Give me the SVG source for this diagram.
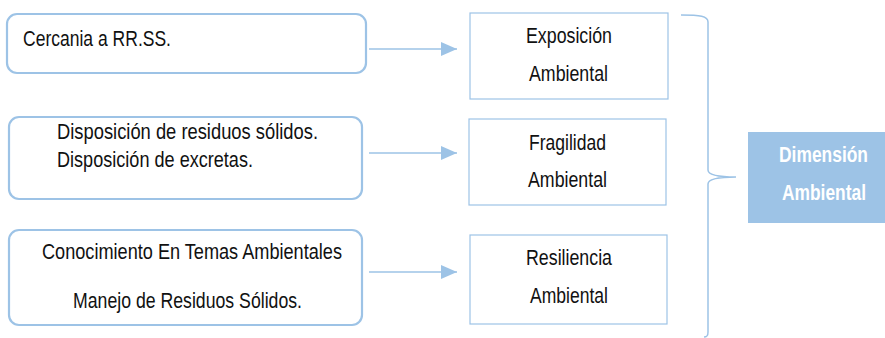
<svg xmlns="http://www.w3.org/2000/svg" width="885" height="338" viewBox="0 0 885 338">
<defs>
<style>
.rb{fill:#fff;stroke:#9DC3E6;stroke-width:2.2}
.sb{fill:#fff;stroke:#9DC3E6;stroke-width:1.2}
.t{font-family:"Liberation Sans",Arial,sans-serif;font-size:21.5px;fill:#111}
.w{font-family:"Liberation Sans",Arial,sans-serif;font-size:21.5px;font-weight:bold;fill:#fff}
.ln{stroke:#9DC3E6;stroke-width:1.5;fill:none}
</style>
<marker id="ah" markerWidth="16" markerHeight="14" viewBox="0 0 16 14" refX="16" refY="7" orient="auto" markerUnits="userSpaceOnUse">
<path d="M0,0 L16,7 L0,14 Z" fill="#9DC3E6"/>
</marker>
</defs>
<g id="n1"><rect class="rb" x="7" y="14" width="359" height="59" rx="10"/><text class="t" x="23" y="46" textLength="148" lengthAdjust="spacingAndGlyphs">Cercania a RR.SS.</text></g>
<g id="n2"><rect class="rb" x="9" y="117" width="353" height="82" rx="10"/><text class="t" x="57" y="139" textLength="261" lengthAdjust="spacingAndGlyphs">Disposición de residuos sólidos.</text><text class="t" x="57" y="167" textLength="196" lengthAdjust="spacingAndGlyphs">Disposición de excretas.</text></g>
<g id="n3"><rect class="rb" x="9" y="230" width="353" height="95" rx="10"/><text class="t" x="42" y="259" textLength="300" lengthAdjust="spacingAndGlyphs">Conocimiento En Temas Ambientales</text><text class="t" x="73" y="308" textLength="229" lengthAdjust="spacingAndGlyphs">Manejo de Residuos Sólidos.</text></g>
<g id="n4"><rect class="sb" x="470" y="13" width="198" height="86"/><text class="t" x="526" y="43" textLength="86" lengthAdjust="spacingAndGlyphs">Exposición</text><text class="t" x="529" y="81" textLength="79" lengthAdjust="spacingAndGlyphs">Ambiental</text></g>
<g id="n5"><rect class="sb" x="469" y="119" width="197" height="86"/><text class="t" x="529" y="150" textLength="77" lengthAdjust="spacingAndGlyphs">Fragilidad</text><text class="t" x="528" y="187" textLength="79" lengthAdjust="spacingAndGlyphs">Ambiental</text></g>
<g id="n6"><rect class="sb" x="470" y="235" width="197" height="89"/><text class="t" x="526" y="265" textLength="86" lengthAdjust="spacingAndGlyphs">Resiliencia</text><text class="t" x="530" y="303" textLength="78" lengthAdjust="spacingAndGlyphs">Ambiental</text></g>
<g id="n7"><rect x="748" y="132" width="137" height="91" fill="#9DC3E6"/><text class="w" x="779" y="162" textLength="89" lengthAdjust="spacingAndGlyphs">Dimensión</text><text class="w" x="782" y="200" textLength="84" lengthAdjust="spacingAndGlyphs">Ambiental</text></g>
<g id="connectors">
<line class="ln" x1="369" y1="49" x2="457" y2="49" marker-end="url(#ah)"/>
<line class="ln" x1="369" y1="153" x2="457" y2="153" marker-end="url(#ah)"/>
<line class="ln" x1="369" y1="272" x2="457" y2="272" marker-end="url(#ah)"/>
<path class="ln" d="M681,15 C700,15 708,16 708,22 L708,170 C708,175 720,177 736,177 C720,177 708,179 708,184 L708,332 C708,336 707,337 704,337"/>
</g>
</svg>
